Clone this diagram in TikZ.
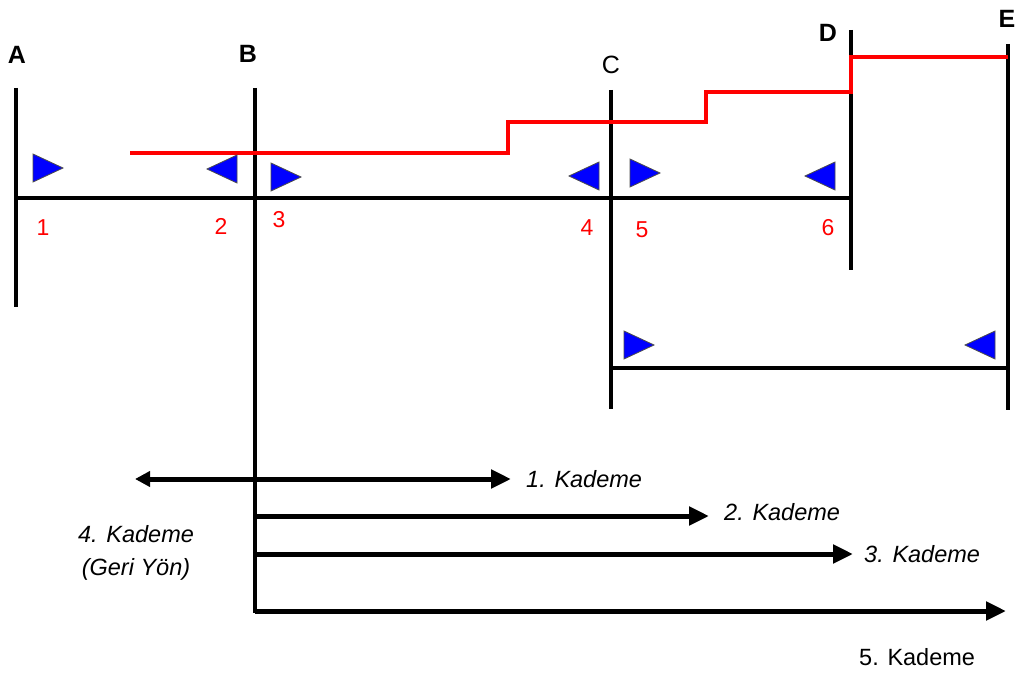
\documentclass[tikz,border=0pt]{standalone}
\usepackage{fontspec}
\setmainfont{Liberation Sans}
\usetikzlibrary{arrows.meta}
\definecolor{tblue}{RGB}{0,0,255}
\definecolor{tred}{RGB}{255,0,0}
\tikzset{
  post/.style={line width=3.5pt,black},
  beam/.style={line width=4pt,black},
  stepline/.style={line width=3.5pt,tred},
  letter/.style={font=\fontsize{25}{27}\selectfont\bfseries,inner sep=0pt},
  num/.style={font=\fontsize{23}{24}\selectfont,text=tred,inner sep=0pt},
  kad/.style={font=\fontsize{23.5}{33}\selectfont\itshape,inner sep=0pt,align=center},
  karrow/.style={line width=5pt,-{Triangle[length=20pt,width=18pt]}},
  tri/.style={fill=tblue,draw=black!70,line width=0.8pt,line join=miter},
  rtri/.pic={\path[tri] (-15,-14) -- (15,0) -- (-15,14) -- cycle;},
  ltri/.pic={\path[tri] (15,-14) -- (-15,0) -- (15,14) -- cycle;}
}
\begin{document}
\begin{tikzpicture}[x=1pt,y=-1pt]
\useasboundingbox[fill=white] (0,0) rectangle (1019,674);
% posts
\coordinate (Atop) at (16,88);   \coordinate (Abot) at (16,307);
\coordinate (Btop) at (255,88);  \coordinate (Bbot) at (255,613);
\coordinate (Ctop) at (611,90);  \coordinate (Cbot) at (611,409);
\coordinate (Dtop) at (851,30);  \coordinate (Dbot) at (851,270);
\coordinate (Etop) at (1008,44); \coordinate (Ebot) at (1008,410);
\draw[post] (Atop) -- (Abot);
\draw[post] (Btop) -- (Bbot);
\draw[post] (Ctop) -- (Cbot);
\draw[post] (Dtop) -- (Dbot);
\draw[post] (Etop) -- (Ebot);
% beams
\coordinate (b1) at (16,198); \coordinate (b2) at (851,198);
\coordinate (c1) at (611,368); \coordinate (c2) at (1008,368);
\draw[beam] (b1) -- (b2);
\draw[beam] (c1) -- (c2);
% red step line
\coordinate (r0) at (130,153);
\coordinate (r1) at (1008,57);
\draw[stepline] (r0) -- (508,153) -- (508,122) -- (706,122) -- (706,92) -- (851,92) -- (851,57) -- (r1);
% letters
\node[letter] (lA) at (17,55) {A};
\node[letter] (lB) at (248,54) {B};
\node[letter,font=\fontsize{25}{27}\selectfont] (lC) at (611,65) {C};
\node[letter] (lD) at (828,33) {D};
\node[letter] (lE) at (1007,19) {E};
% numbers
\node[num] (n1) at (43,228) {1};
\node[num] (n2) at (221,226) {2};
\node[num] (n3) at (279,220) {3};
\node[num] (n4) at (587,228) {4};
\node[num] (n5) at (642,230) {5};
\node[num] (n6) at (828,228) {6};
% triangles
\pic at (48,168) {rtri};
\pic at (222,169) {ltri};
\pic at (286,177) {rtri};
\pic at (584,176) {ltri};
\pic at (645,173) {rtri};
\pic at (820,176) {ltri};
\pic at (639,345) {rtri};
\pic at (980,345) {ltri};
% kademe arrows
\coordinate (k1l) at (135,479); \coordinate (k1r) at (511,479);
\coordinate (k2l) at (255,516); \coordinate (k2r) at (709,516);
\coordinate (k3l) at (255,554); \coordinate (k3r) at (853,554);
\coordinate (k5l) at (255,611); \coordinate (k5r) at (1006,611);
\draw[line width=5pt,{Triangle[length=15pt,width=15pt]}-{Triangle[length=20pt,width=18pt]}] (k1l) -- (k1r);
\draw[karrow] (k2l) -- (k2r);
\draw[karrow] (k3l) -- (k3r);
\draw[karrow] (k5l) -- (k5r);
\node[kad,anchor=west] (t1) at (526,479) {1. Kademe};
\node[kad,anchor=west] (t2) at (724,512) {2. Kademe};
\node[kad,anchor=west] (t3) at (864,554) {3. Kademe};
\node[kad] (t4) at (136,553) {4. Kademe\\(Geri Yön)};
\node[kad,font=\fontsize{23.5}{27}\selectfont,anchor=west] (t5) at (859,657) {5. Kademe};
\end{tikzpicture}
\end{document}
